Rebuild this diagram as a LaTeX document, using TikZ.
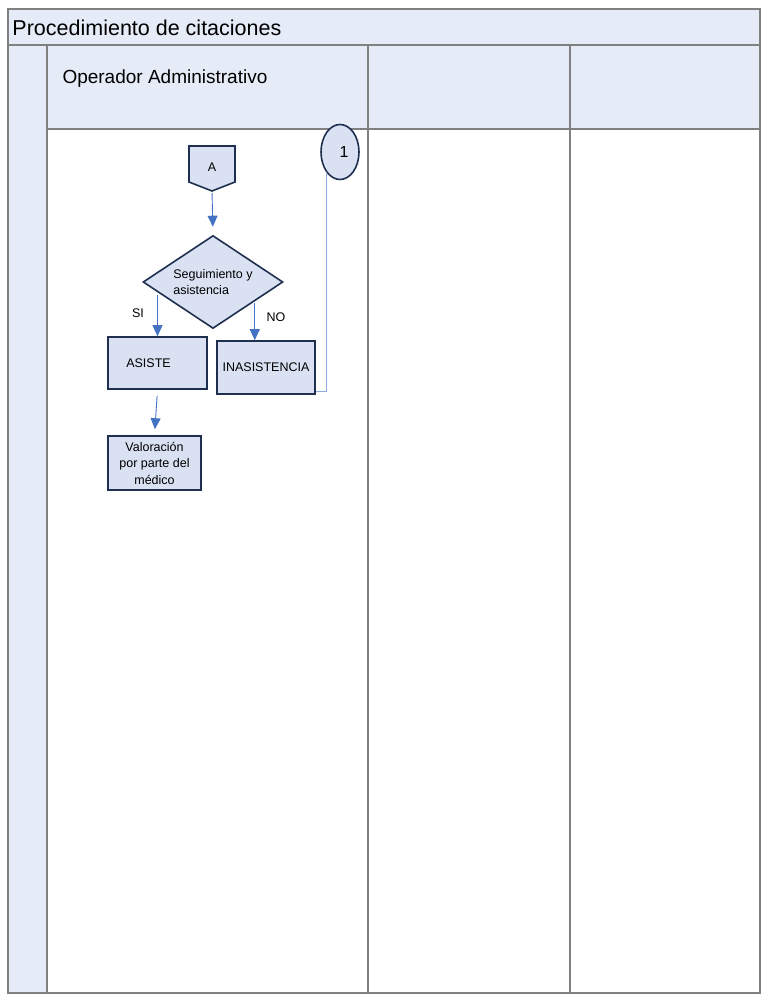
\documentclass[tikz,border=0pt]{standalone}
\usepackage{fontspec}
\setmainfont{Liberation Sans}
\usetikzlibrary{shapes.geometric,arrows.meta,calc}

\definecolor{laneFill}{HTML}{E6ECF7}
\definecolor{laneLine}{HTML}{808080}
\definecolor{boxFill}{HTML}{D9E1F2}
\definecolor{boxLine}{HTML}{1F2F4F}
\definecolor{flowBlue}{HTML}{4472C4}
\definecolor{linkBlue}{HTML}{8FAADC}

\tikzset{every picture/.style={line width=1pt}}
\tikzset{
  lane/.style={draw=laneLine, line width=1.3pt},
  stepbox/.style={draw=boxLine, fill=boxFill, line width=1.6pt, inner sep=0pt, font=\fontsize{12.5}{16.5}\selectfont},
  flow/.style={draw=flowBlue, line width=0.9pt, -{Triangle[length=11pt,width=10pt]}},
  link/.style={draw=linkBlue, line width=0.8pt},
  small/.style={font=\fontsize{12.5}{15}\selectfont, inner sep=0pt},
}

\begin{document}
\begin{tikzpicture}[x=1pt,y=1pt,yscale=-1,xscale=1]
\useasboundingbox (0,0) rectangle (768,1001);

%Shape: Rectangle [title band]
\fill [laneFill] (8,9) rectangle (760,45);
%Shape: Rectangle [left column]
\fill [laneFill] (8,45) rectangle (47,993);
%Shape: Rectangle [header row]
\fill [laneFill] (47,45) rectangle (760,129);

%Straight Lines [frame]
\draw [lane] (8,9) rectangle (760,993);
\draw [lane] (8,45) -- (760,45);
\draw [lane] (47,129) -- (760,129);
\draw [lane] (47,45) -- (47,993);
\draw [lane] (368,45) -- (368,993);
\draw [lane] (570,45) -- (570,993);

%Shape: Off-page connector
\draw [stepbox] (189,146) -- (235,146) -- (235,182) -- (212,191) -- (189,182) -- cycle ;
\coordinate (offAtip) at (212,191);

% Text Node
\node (titulo) at (12,28) [anchor=west, inner sep=0pt, font=\fontsize{21.5}{24}\selectfont] {Procedimiento de citaciones};
% Text Node
\node (operador) at (62,79) [anchor=west, inner sep=0pt, font=\fontsize{19}{22}\selectfont] {Operador Administrativo};
% Text Node
\node (offA) at (212,167) [small] {A};

%Shape: Diamond
\node (seg) at (213,282) [stepbox, diamond, aspect=1.5, minimum width=140, minimum height=93, align=left] {Seguimiento y\\asistencia};
%Shape: Rectangle
\node (asiste) at (157.5,363) [stepbox, minimum width=99, minimum height=52] {ASISTE\hspace*{18pt}};
%Shape: Rectangle
\node (inas) at (266,367.5) [stepbox, minimum width=98, minimum height=53] {INASISTENCIA};
%Shape: Rectangle
\node (valor) at (154.5,463) [stepbox, minimum width=93, minimum height=54, align=center] {Valoración\\por parte del\\médico};
%Shape: Ellipse
\node (uno) at (340,152) [stepbox, ellipse, minimum width=38, minimum height=55, font=\fontsize{16}{18}\selectfont] {\hspace*{8pt}1};

% Text Node
\node (si) at (138,313) [small] {SI};
% Text Node
\node (no) at (276,317) [small] {NO};

%Straight Lines
\coordinate (siOut) at ($(seg.west)!0.2!(seg.south)$);
\coordinate (noOut) at ($(seg.east)!0.41!(seg.south)$);
\draw [flow, shorten <=2pt, shorten >=8pt] (offAtip) -- (seg.north);
\draw [flow, shorten <=4pt] (siOut -| asiste.north) -- (asiste.north);
\draw [flow, shorten <=2pt] (noOut) -- (noOut |- inas.north);
\draw [flow, shorten <=6pt, shorten >=6pt] (asiste.south) -- (valor.north);
\draw [link] (uno.south west) |- ($(inas.south east)+(0,-3)$);

\end{tikzpicture}
\end{document}
